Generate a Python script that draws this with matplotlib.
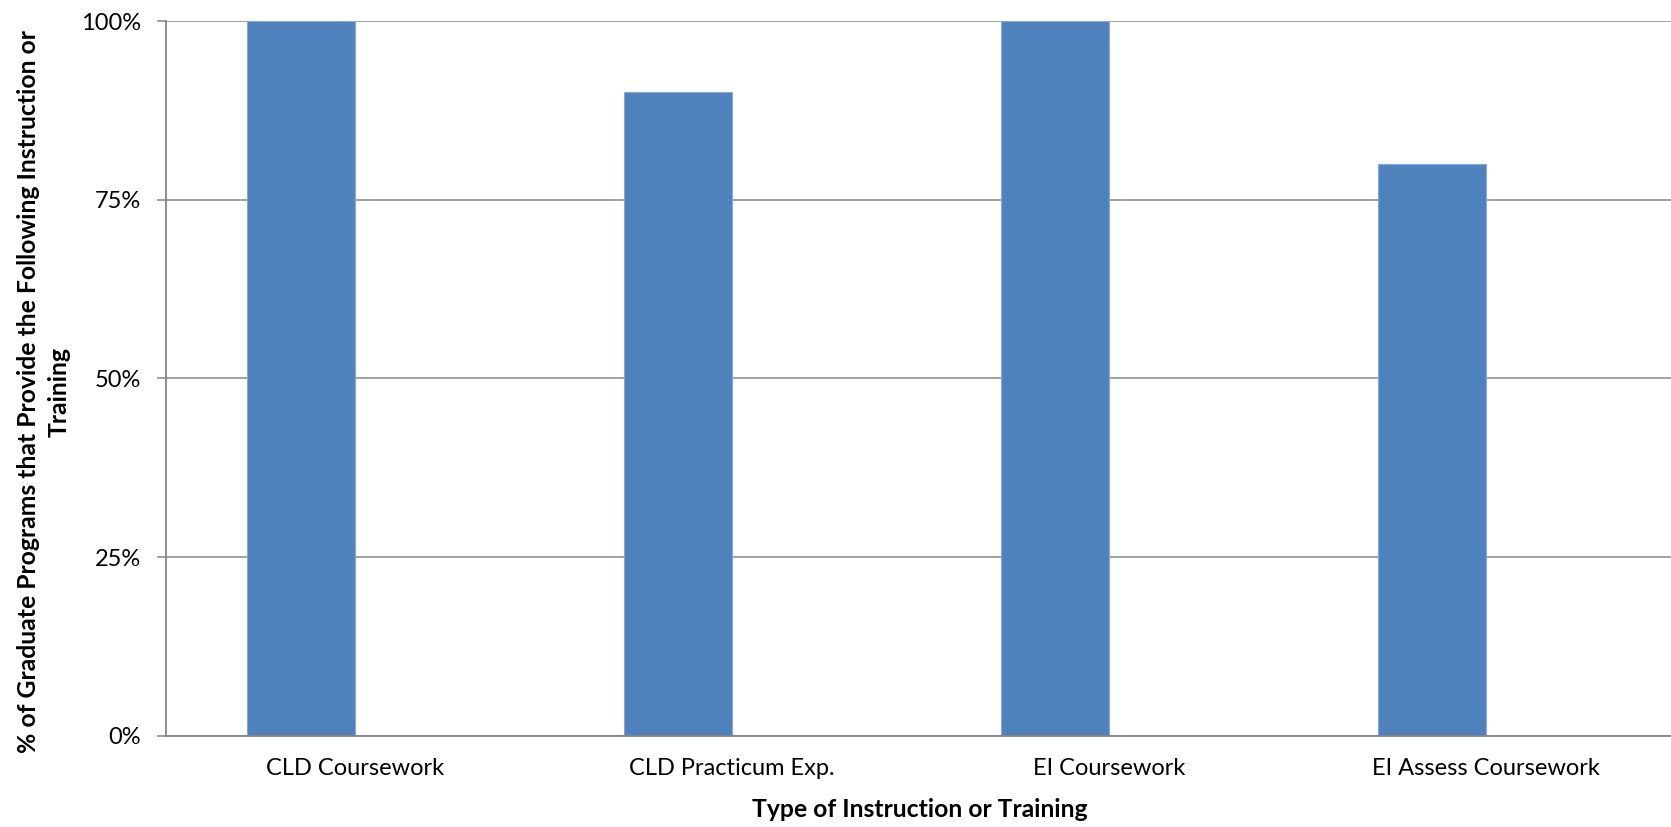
import matplotlib
matplotlib.use("Agg")
import matplotlib.pyplot as plt
import numpy as np
from matplotlib.ticker import PercentFormatter, FixedLocator

categories = ["CLD Coursework", "CLD Practicum Exp.", "EI Coursework", "EI Assess Coursework"]
share = [1.00, 0.90, 1.00, 0.80]
y_ticks = [0.0, 0.25, 0.50, 0.75, 1.00]

FONT = "Lato"
GRID = "#868686"
BAR = "#4F81BD"

W, H = 1671, 827
fig = plt.figure(figsize=(W / 100, H / 100), dpi=100)

left_px, right_px, top_px, bottom_px = 166.3, 1674.4, 21.0, 735.7
ax = fig.add_axes([left_px / W, 1 - bottom_px / H,
                   (right_px - left_px) / W, (bottom_px - top_px) / H])

x = np.arange(len(categories))
bar_w = 0.286
# bars sit in the left half of each category slot (second series slot left empty)
ax.bar(x - bar_w / 2, share, width=bar_w, color=BAR, edgecolor="#86a8d6",
       linewidth=0.8, zorder=3)

ax.set_xlim(-0.5, len(categories) - 0.5)
ax.set_ylim(0, 1.0)

ax.yaxis.set_major_locator(FixedLocator(y_ticks))
ax.yaxis.set_major_formatter(PercentFormatter(1.0, decimals=0))
ax.set_xticks(x)
ax.set_xticklabels(categories)

ax.grid(axis="y", color=GRID, linewidth=1.1, zorder=0)
ax.set_axisbelow(True)
for s in ["top", "right"]:
    ax.spines[s].set_visible(False)
for s in ["left", "bottom"]:
    ax.spines[s].set_color(GRID)
    ax.spines[s].set_linewidth(1.3)
    ax.spines[s].set_zorder(4)

ax.tick_params(axis="y", length=6.2, width=1.1, color=GRID, pad=12.0,
               labelsize=17, labelcolor="black")
ax.tick_params(axis="x", length=0, pad=16, labelsize=17, labelcolor="black")
for lbl in ax.get_xticklabels() + ax.get_yticklabels():
    lbl.set_fontfamily(FONT)

fig.text(920 / W, 1 - 817 / H, "Type of Instruction or Training",
         ha="center", va="baseline", fontsize=17.8, fontweight="bold",
         family=FONT, color="black")

fig.text(44 / W, 1 - 392 / H,
         "% of Graduate Programs that Provide the Following Instruction or\nTraining",
         rotation=90, ha="center", va="center", multialignment="center",
         fontsize=17.8, fontweight="bold", family=FONT, color="black",
         linespacing=1.4)

fig.savefig("out.png", dpi=100, facecolor="white")
